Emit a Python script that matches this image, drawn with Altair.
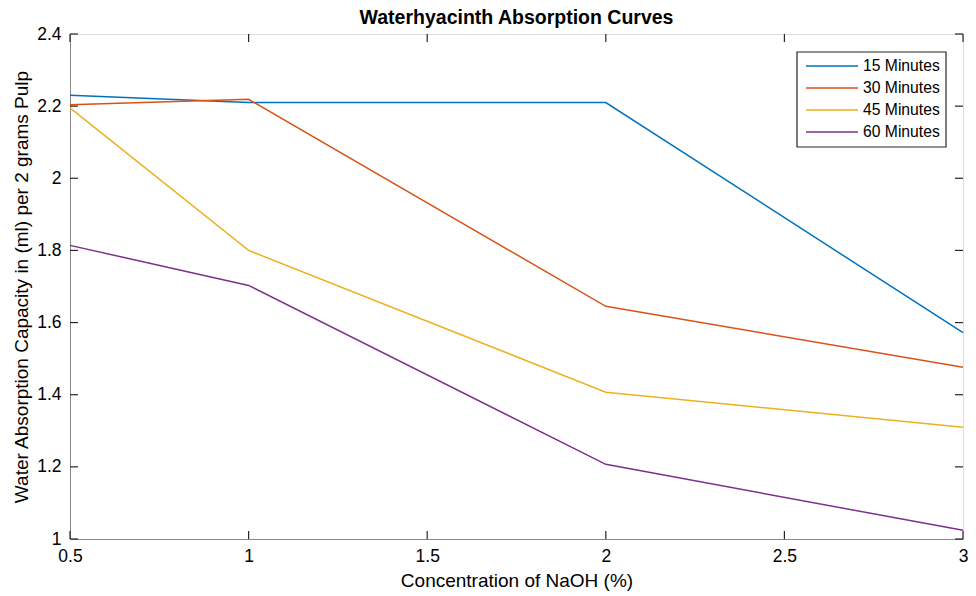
import altair as alt
import pandas as pd

conc = [0.5, 1, 2, 3]
m15 = [2.23, 2.21, 2.21, 1.572]
m30 = [2.204, 2.219, 1.645, 1.476]
m45 = [2.195, 1.80, 1.407, 1.31]
m60 = [1.814, 1.703, 1.207, 1.024]
series = ["15 Minutes", "30 Minutes", "45 Minutes", "60 Minutes"]
colors = ["#0072BD", "#D95319", "#EDB120", "#7E2F8E"]
x_ticks = [0.5, 1, 1.5, 2, 2.5, 3]
y_ticks = [1, 1.2, 1.4, 1.6, 1.8, 2, 2.2, 2.4]

rows = []
for name, vals in zip(series, [m15, m30, m45, m60]):
    for c, v in zip(conc, vals):
        rows.append({"conc": c, "val": v, "series": name})
df = pd.DataFrame(rows)

W, H = 893, 505
FONT = "Liberation Sans"
tick_color = "#262626"

xs = alt.Scale(domain=[0.5, 3], nice=False, zero=False)
ys = alt.Scale(domain=[1, 2.4], nice=False, zero=False)
cs = alt.Scale(domain=series, range=colors)

x_axis = alt.Axis(values=x_ticks, title="Concentration of NaOH (%)", ticks=False, grid=False,
                  labelPadding=8, titlePadding=7, labelFontSize=17.5, titleFontSize=19,
                  titleFontWeight="normal", labelFlush=False, format="~g")
y_axis = alt.Axis(values=y_ticks, title="Water Absorption Capacity in (ml) per 2 grams Pulp",
                  ticks=False, grid=False, labelPadding=9, titlePadding=5, labelFontSize=17.5,
                  titleFontSize=19, titleFontWeight="normal", format="~g")

lines = alt.Chart(df).mark_line(strokeWidth=1.5).encode(
    x=alt.X("conc:Q", scale=xs, axis=x_axis),
    y=alt.Y("val:Q", scale=ys, axis=y_axis),
    color=alt.Color("series:N", scale=cs, legend=None),
)

xt = pd.DataFrame({"t": x_ticks})
yt = pd.DataFrame({"t": y_ticks})
xb = alt.Chart(xt).mark_rule(color=tick_color, strokeWidth=1.2).encode(
    x=alt.X("t:Q", scale=xs, axis=x_axis), y=alt.value(H), y2=alt.value(H - 8))
xtop = alt.Chart(xt).mark_rule(color=tick_color, strokeWidth=1.2).encode(
    x=alt.X("t:Q", scale=xs, axis=x_axis), y=alt.value(0), y2=alt.value(8))
yl = alt.Chart(yt).mark_rule(color=tick_color, strokeWidth=1.2).encode(
    y=alt.Y("t:Q", scale=ys, axis=y_axis), x=alt.value(0), x2=alt.value(8))
yr = alt.Chart(yt).mark_rule(color=tick_color, strokeWidth=1.2).encode(
    y=alt.Y("t:Q", scale=ys, axis=y_axis), x=alt.value(W), x2=alt.value(W - 8))

inner = alt.layer(lines, xb, xtop, yl, yr)

# legend (drawn manually to match MATLAB spacing)
leg_df = pd.DataFrame({"series": series, "i": list(range(len(series)))})
px = alt.Scale(domain=[0, H], range=[0, H])
box = alt.Chart(pd.DataFrame({"a": [0]})).mark_rect(
    fill="white", stroke=tick_color, strokeWidth=1.2).encode(
    x=alt.value(727), x2=alt.value(876), y=alt.value(18), y2=alt.value(113))
leg_base = alt.Chart(leg_df).transform_calculate(ly="32 + 22 * datum.i")
leg_lines = leg_base.mark_rule(strokeWidth=1.5).encode(
    x=alt.value(736), x2=alt.value(788),
    y=alt.Y("ly:Q", scale=px, axis=None),
    color=alt.Color("series:N", scale=cs, legend=None))
leg_text = leg_base.mark_text(align="left", baseline="middle", fontSize=15.7, font=FONT,
                              color="black").encode(
    x=alt.value(793), y=alt.Y("ly:Q", scale=px, axis=None), text="series:N")
legend = alt.layer(box, leg_lines, leg_text)

chart = alt.layer(inner, legend).resolve_scale(y="independent").properties(
    width=W, height=H,
    title=alt.Title("Waterhyacinth Absorption Curves", fontSize=19.5, fontWeight="bold",
                    font=FONT, color="black", offset=5, dy=8),
    autosize=alt.AutoSizeParams(type="none"),
    padding={"left": 70, "top": 34, "right": 13, "bottom": 57},
).configure_view(stroke=tick_color, strokeWidth=1.5).configure_axis(
    domainColor=tick_color, domainWidth=1.5, labelColor="#262626", titleColor="#262626",
    labelFont=FONT, titleFont=FONT, grid=False, titleFontWeight="normal"
).configure(background="white")

chart.save("out.html", embed_options={"renderer": "svg", "actions": False})
